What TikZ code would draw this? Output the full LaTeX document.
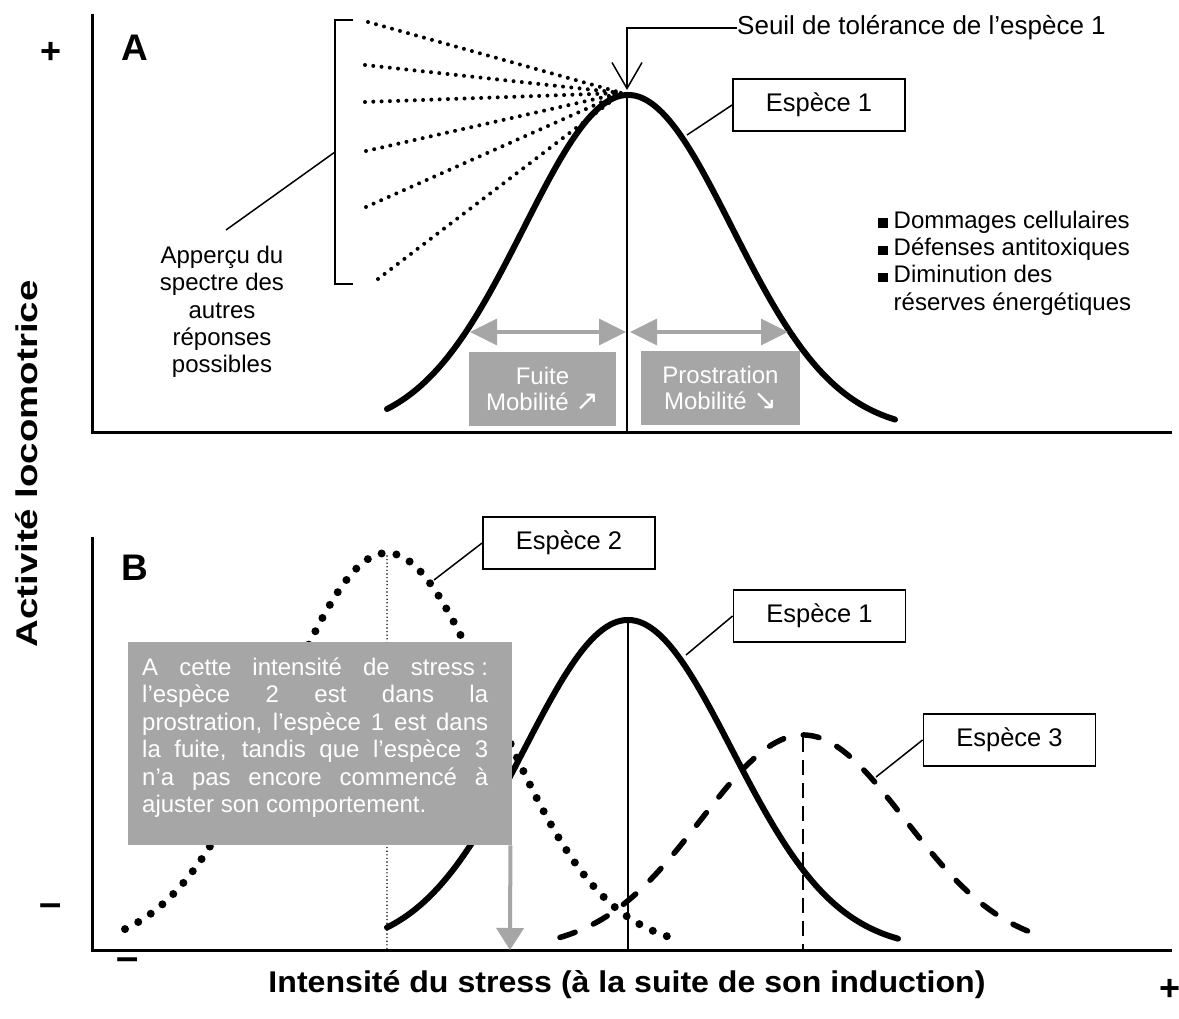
\documentclass[tikz,border=0pt]{standalone}
\usepackage{fontspec}
\setmainfont{Liberation Sans}
\newfontfamily\djv{DejaVu Sans}
\usetikzlibrary{arrows.meta}
\definecolor{gfill}{HTML}{A6A6A6}
\begin{document}
\begin{tikzpicture}[x=1pt,y=-1pt,
  txt/.style={font=\fontsize{24}{27.3}\selectfont, inner sep=0pt},
  spbox/.style={draw, line width=1.8pt, minimum width=172pt, minimum height=52pt, inner sep=0pt, font=\fontsize{25.5}{30}\selectfont},
  graybox/.style={fill=gfill, text=white, inner sep=0pt, align=center, font=\fontsize{24}{26}\selectfont},
  conn/.style={line width=1.5pt},
  axisline/.style={line width=3pt},
  curve/.style={line width=6pt, line cap=round},
  smalldots/.style={line width=4pt, line cap=round, dash pattern=on 0pt off 8.3pt},
  bigdots/.style={line width=8pt, line cap=round, dash pattern=on 0pt off 15pt},
  bigdash/.style={line width=5.5pt, line cap=round, dash pattern=on 16pt off 20pt},
  grayarrow/.style={draw=gfill, line width=3.5pt, {Triangle[length=27pt,width=26pt]}-{Triangle[length=27pt,width=26pt]}},
  bigbold/.style={font=\fontsize{37}{40}\selectfont\bfseries, inner sep=0pt},
  signs/.style={font=\fontsize{36}{40}\selectfont\bfseries, inner sep=0pt},
  dashsign/.style={font=\fontsize{40}{44}\selectfont\bfseries, inner sep=0pt},
  axlabel/.style={font=\fontsize{30}{34}\selectfont\bfseries, inner sep=0pt}
]
\fill[white] (0,0) rectangle (1179,1019);
\useasboundingbox (0,0) rectangle (1179,1019);

% ---------------- axis labels ----------------
\node[axlabel, rotate=90, anchor=base] (ylab) at (37,464) {\scalebox{1.28}[1]{Activité locomotrice}};
\node[axlabel, anchor=base] (xlab) at (627,992) {\scalebox{1.07}[1]{Intensité du stress (à la suite de son induction)}};
\node[signs, anchor=base] (plusA) at (51,64) {+};
\node[dashsign, anchor=base] (minusB) at (51,916) {–};
\node[dashsign, anchor=base] (minusX) at (128,970) {–};
\node[signs, anchor=base] (plusX) at (1170,1000) {+};

% ================= PANEL A =================
\coordinate (oA) at (92,432);
\draw[axisline] (92,14) -- (oA) -- (1172,432);
\node[bigbold] (labA) at (135,48) {A};

% bracket and other responses
\draw[line width=1.8pt] (353,20) -- (335,20) -- (335,284) -- (353,284);
\coordinate (brk) at (335,152);
\coordinate (aptip) at (226,230);
\draw[conn] (brk) -- (aptip);
\node[txt, align=center] (apercu) at (222,312) {Apperçu du\\spectre des\\autres\\réponses\\possibles};

\coordinate (conv) at (622,93);
\coordinate (d1) at (368,22);
\coordinate (d2) at (365,65);
\coordinate (d3) at (365,102);
\coordinate (d4) at (366,151);
\coordinate (d5) at (366,207);
\coordinate (d6) at (378,279);
\foreach \d in {d1,d2,d3,d4,d5,d6} \draw[smalldots] (\d) -- (conv);

% species 1 curve
\draw[curve] plot[domain=387:895, samples=120, smooth] (\x, {432-337*exp(-0.5*((\x-628)/104)^2)});
\coordinate (peakA) at (627,96);
\draw[line width=2pt] (peakA) -- (627,432);

% threshold label
\node[font=\fontsize{26}{30}\selectfont, inner sep=0pt, anchor=west] (seuil) at (737,28) {Seuil de tolérance de l’espèce 1};
\draw[conn, -{Straight Barb[length=26pt,width=30pt]}] (seuil.west) -- (627,28) -- (627,90);

% species 1 label
\node[spbox] (spA) at (819,105) {Espèce 1};
\coordinate (spAc) at (687,135);
\draw[conn] (spA.west) -- (spAc);

% bullet list
\node[txt, anchor=north west, align=left] (dmg) at (878,209) {%
\begin{tabular}{@{}l@{\hspace{6pt}}l@{}}
\raisebox{0.5pt}{\rule{9.5pt}{9.5pt}} & Dommages cellulaires\\
\raisebox{0.5pt}{\rule{9.5pt}{9.5pt}} & Défenses antitoxiques\\
\raisebox{0.5pt}{\rule{9.5pt}{9.5pt}} & Diminution des\\
 & réserves énergétiques
\end{tabular}};

% gray arrows and boxes
\coordinate (fa1) at (470,332);
\coordinate (fa2) at (626,332);
\coordinate (pa1) at (630,332);
\coordinate (pa2) at (788,332);
\draw[grayarrow] (fa1) -- (fa2);
\draw[grayarrow] (pa1) -- (pa2);
\node[graybox, minimum width=147pt, minimum height=74pt] (fuite) at (542.5,389) {Fuite\\Mobilité {\djv\fontsize{28}{26}\selectfont ↗}};
\node[graybox, minimum width=159pt, minimum height=74pt] (prostr) at (720.5,388) {Prostration\\Mobilité {\djv\fontsize{28}{26}\selectfont ↘}};

% ================= PANEL B =================
\coordinate (oB) at (92,950);
\draw[axisline] (92,537) -- (oB) -- (1172,950);
\node[bigbold] (labB) at (135,568) {B};

% species 2 (dotted)
\draw[line width=1.6pt, line cap=round, dash pattern=on 0pt off 3.6pt] (387,556) -- (387,950);
\draw[bigdots] plot[domain=125:678, samples=140, smooth] (\x, {950-397*exp(-0.5*((\x-387)/108)^2)});

% species 1 (solid)
\draw[curve] plot[domain=387:898, samples=120, smooth] (\x, {950-330*exp(-0.5*((\x-628)/104)^2)});
\draw[line width=2pt] (628,620) -- (628,950);

% species 3 (dashed)
\draw[line width=2pt, dash pattern=on 15pt off 8pt] (803,737) -- (803,950);
\draw[bigdash] plot[domain=560:1045, samples=120, smooth] (\x, {950-215*exp(-0.5*((\x-803)/102)^2)});

% labels
\node[spbox] (sp2) at (569,543) {Espèce 2};
\coordinate (sp2c) at (434,580);
\draw[conn] (sp2.west) -- (sp2c);
\node[spbox] (sp1b) at (819.5,616) {Espèce 1};
\coordinate (sp1bc) at (686,655);
\draw[conn] (sp1b.west) -- (sp1bc);
\node[spbox] (sp3) at (1009.5,740) {Espèce 3};
\coordinate (sp3c) at (876,777);
\draw[conn] (sp3.west) -- (sp3c);

% gray text box
\node[fill=gfill, text=white, anchor=north west, inner xsep=14pt, inner ysep=0pt, minimum height=203pt,
      text width=356pt, align=left, font=\fontsize{24}{27.5}\selectfont] (gbox) at (128,642) {%
\spaceskip=0pt\xspaceskip=0pt\relax
\strut\makebox[346pt][s]{A cette intensité de \mbox{stress :}}\\
\makebox[346pt][s]{l’espèce 2 est dans la}\\
\makebox[346pt][s]{prostration, l’espèce 1 est dans}\\
\makebox[346pt][s]{la fuite, tandis que l’espèce 3}\\
\makebox[346pt][s]{n’a pas encore commencé à}\\
ajuster son comportement.\strut\rule[-19pt]{0pt}{1pt}};
\coordinate (arrtip) at (510,950);
\draw[draw=gfill, line width=4pt, -{Triangle[length=22pt,width=27pt]}] ([xshift=-2pt]gbox.south east) -- (arrtip);

\end{tikzpicture}
\end{document}
